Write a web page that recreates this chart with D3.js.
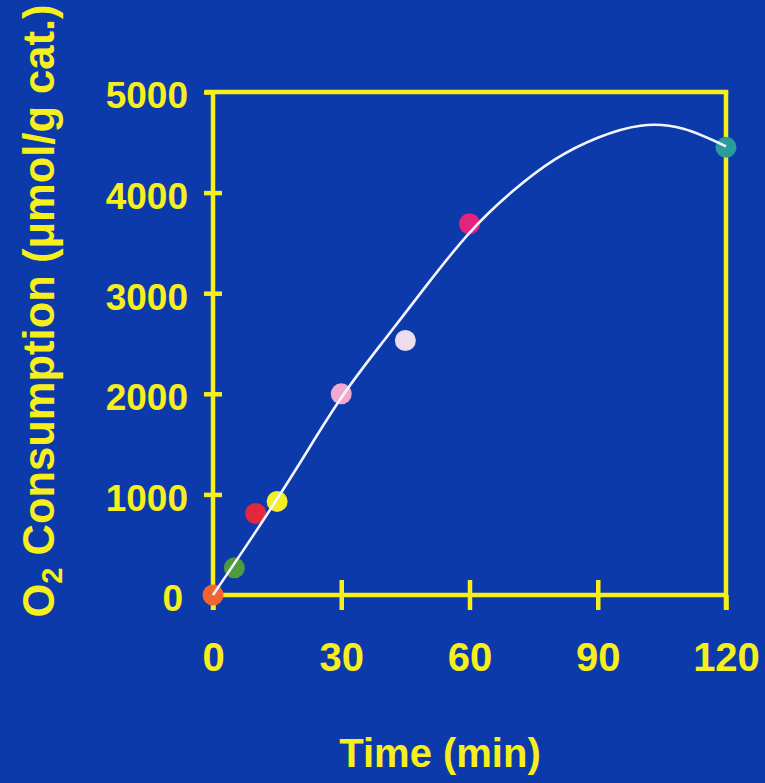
<!DOCTYPE html>
<html>
<head>
<meta charset="utf-8">
<script src="https://cdn.jsdelivr.net/npm/d3@7"></script>
<style>
  html, body { margin: 0; padding: 0; background: #0c3aab; }
  svg { display: block; }
</style>
</head>
<body>
<script>
// ---- data ----
const sampleTimes = [0, 5, 10, 15, 30, 45, 60, 120];
const sampleValues = [0, 270, 810, 930, 2000, 2530, 3690, 4450];
const sampleColors = ["#f26530", "#4f9a3c", "#e3283c", "#f2ee2a", "#f3a9cf", "#ecdcec", "#e3237f", "#2a9d9a"];

const fitTimes = [0, 10, 20, 30, 40, 50, 60, 70, 80, 90, 100, 110, 120];
const fitValues = [0, 630, 1290, 1960, 2530, 3080, 3600, 4010, 4330, 4545, 4665, 4635, 4460];

const xTicks = [0, 30, 60, 90, 120];
const yTicks = [0, 1000, 2000, 3000, 4000, 5000];

const W = 765, H = 783;
const yellow = "#f6ef1c";
const fontFam = "'Liberation Sans', Arial, Helvetica, sans-serif";

const svg = d3.select("body").append("svg").attr("width", W).attr("height", H);
svg.append("rect").attr("width", W).attr("height", H).attr("fill", "#0c3aab");

const x = d3.scaleLinear().domain([0, 120]).range([213, 726]);
const y = d3.scaleLinear().domain([0, 5000]).range([595, 92]);

const lw = 4.5;

// frame lines
const frame = svg.append("g").attr("stroke", yellow).attr("stroke-width", lw).attr("stroke-linecap", "butt");
frame.append("line").attr("x1", x(0) - 8).attr("x2", x(120) + lw / 2).attr("y1", y(5000)).attr("y2", y(5000));
frame.append("line").attr("x1", x(0)).attr("x2", x(0)).attr("y1", y(5000)).attr("y2", y(0) + 15);
frame.append("line").attr("x1", x(120)).attr("x2", x(120)).attr("y1", y(5000)).attr("y2", y(0) + 15);
frame.append("line").attr("x1", x(0)).attr("x2", x(120)).attr("y1", y(0)).attr("y2", y(0));

// y axis
const yAxis = svg.append("g").attr("transform", `translate(${x(0)},0)`)
  .call(d3.axisLeft(y).tickValues(yTicks).tickSize(9).tickPadding(16).tickFormat(d3.format("d")));
yAxis.select(".domain").remove();
yAxis.selectAll(".tick line").attr("stroke", yellow).attr("stroke-width", lw)
  .attr("x1", d => (d === 0 || d === 5000) ? 0 : 9).attr("x2", d => d === 0 ? 0 : -9);
yAxis.selectAll(".tick text").attr("fill", yellow).attr("font-family", fontFam)
  .attr("font-weight", "bold").attr("font-size", 37).attr("dy", "0.43em")
  .attr("x", d => d === 0 ? -30 : -25);

// x axis
const xAxis = svg.append("g").attr("transform", `translate(0,${y(0)})`)
  .call(d3.axisBottom(x).tickValues(xTicks).tickSize(15).tickPadding(33));
xAxis.select(".domain").remove();
xAxis.selectAll(".tick line").attr("stroke", yellow).attr("stroke-width", lw)
  .attr("y1", d => (d === 0 || d === 120) ? 0 : -15);
xAxis.selectAll(".tick text").attr("fill", yellow).attr("font-family", fontFam)
  .attr("font-weight", "bold").attr("font-size", 40).attr("dy", "0.71em");

// points
svg.append("g").selectAll("circle").data(sampleTimes).join("circle")
  .attr("cx", d => x(d)).attr("cy", (d, i) => y(sampleValues[i]))
  .attr("r", 10.5).attr("fill", (d, i) => sampleColors[i]);

// fitted curve
const line = d3.line().x(d => x(d[0])).y(d => y(d[1])).curve(d3.curveNatural);
svg.append("path").datum(fitTimes.map((t, i) => [t, fitValues[i]]))
  .attr("d", line).attr("fill", "none").attr("stroke", "#f4f6ff").attr("stroke-width", 2.6);

// axis titles
svg.append("text").attr("x", 440).attr("y", 767).attr("text-anchor", "middle")
  .attr("fill", yellow).attr("font-family", fontFam).attr("font-weight", "bold").attr("font-size", 40)
  .text("Time (min)");

const yl = svg.append("text").attr("transform", "translate(54,311) rotate(-90)").attr("text-anchor", "middle")
  .attr("fill", yellow).attr("font-family", fontFam).attr("font-weight", "bold").attr("font-size", 43.5);
yl.append("tspan").text("O");
yl.append("tspan").attr("font-size", 29).attr("dy", 8).text("2");
yl.append("tspan").attr("dy", -8).text(" Consumption (μmol/g cat.)");
</script>
</body>
</html>
